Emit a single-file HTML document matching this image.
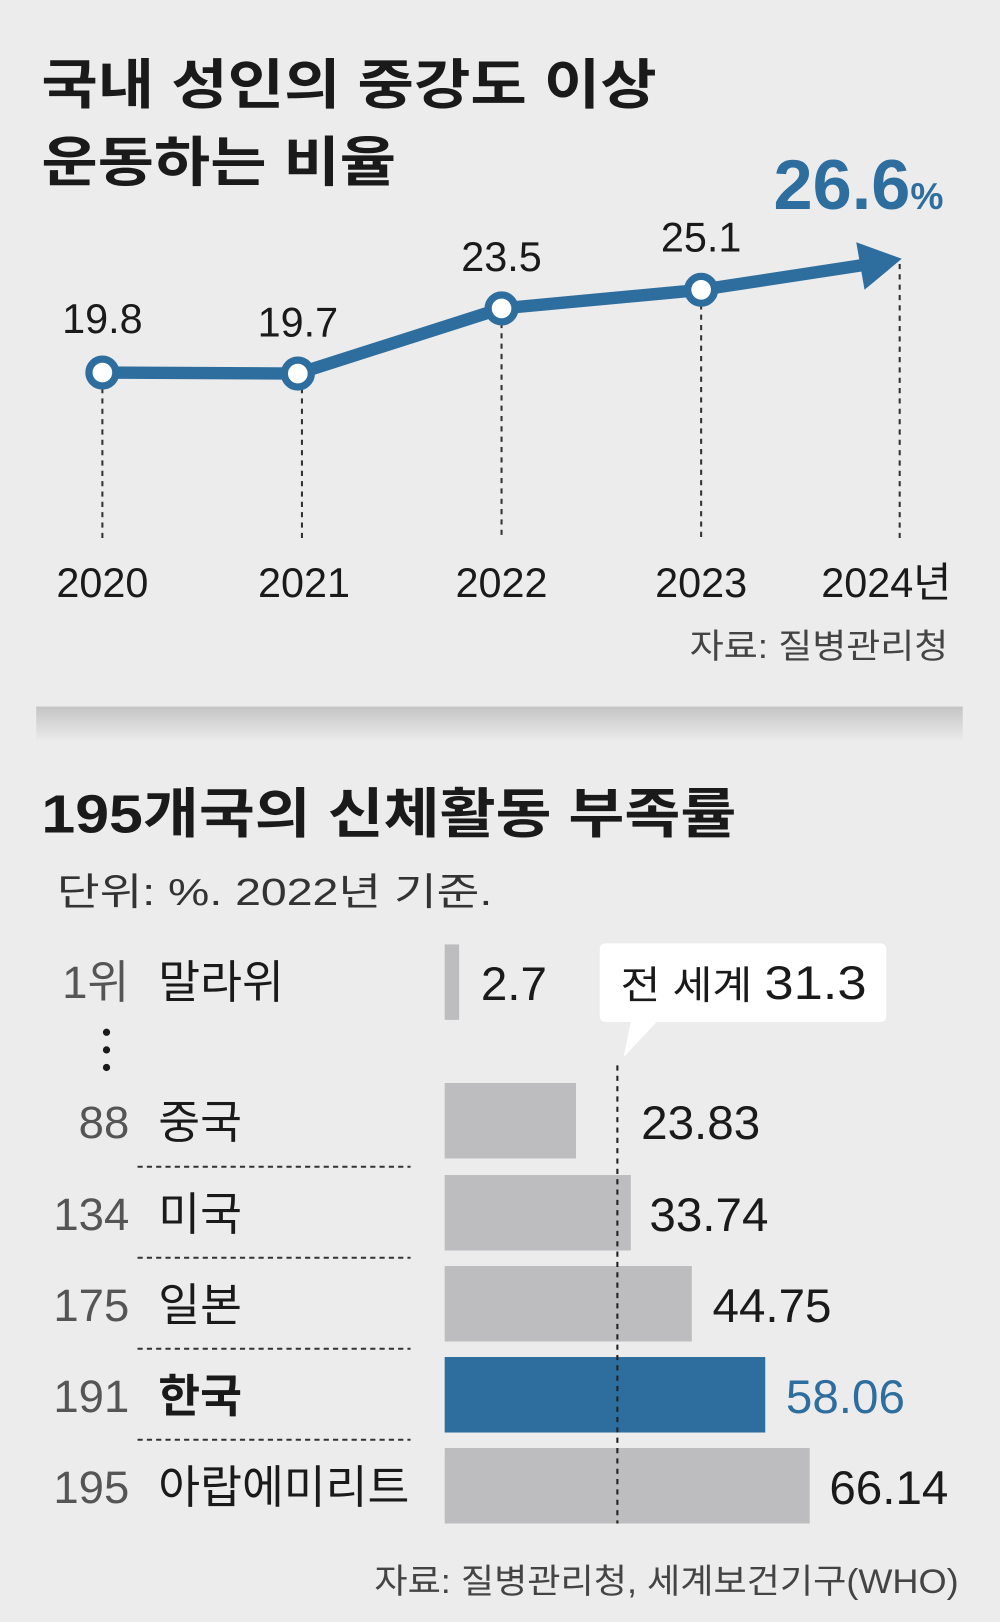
<!DOCTYPE html>
<html><head><meta charset="utf-8"><style>
html,body{margin:0;padding:0;background:#ececec;}
svg{display:block}
text{font-family:"Liberation Sans","Noto Sans CJK KR",sans-serif;}
</style></head><body>
<svg width="1000" height="1622" viewBox="0 0 967 1568" xmlns="http://www.w3.org/2000/svg">
<defs><linearGradient id="g" x1="0" y1="0" x2="0" y2="1"><stop offset="0" stop-color="#c4c4c4"/><stop offset="1" stop-color="#ececec"/></linearGradient></defs>
<rect width="967" height="1568" fill="#ececec"/>
<text x="40" y="100" font-size="52" font-weight="bold" fill="#1a1a1a" textLength="595" lengthAdjust="spacingAndGlyphs">국내 성인의 중강도 이상</text>
<text x="40" y="175" font-size="52" font-weight="bold" fill="#1a1a1a" textLength="343" lengthAdjust="spacingAndGlyphs">운동하는 비율</text>
<g stroke="#333" stroke-width="2" stroke-dasharray="5,5">
<line x1="99" y1="375" x2="99" y2="520"/><line x1="292" y1="375" x2="292" y2="520"/>
<line x1="485" y1="312" x2="485" y2="520"/><line x1="678" y1="294" x2="678" y2="520"/>
<line x1="870" y1="255" x2="870" y2="520"/></g>
<polyline points="99,360 288,361 485,298 678,280 835,256" fill="none" stroke="#2e6e9e" stroke-width="12" stroke-linejoin="round"/>
<polygon points="872,250 828,234 836,280" fill="#2e6e9e"/>
<g fill="#fff" stroke="#2e6e9e" stroke-width="7">
<circle cx="99" cy="360" r="13"/><circle cx="288" cy="361" r="13"/><circle cx="485" cy="298" r="13"/><circle cx="678" cy="280" r="13"/></g>
<g font-size="40" fill="#1a1a1a" text-anchor="middle">
<text x="99" y="322">19.8</text><text x="288" y="325">19.7</text><text x="485" y="262">23.5</text><text x="678" y="243">25.1</text>
<text x="99" y="577">2020</text><text x="294" y="577">2021</text><text x="485" y="577">2022</text><text x="678" y="577">2023</text><text x="857" y="577">2024년</text></g>
<text x="748" y="202" font-size="68" font-weight="bold" fill="#2e6e9e">26.6<tspan font-size="36">%</tspan></text>
<text x="667" y="636" font-size="33" fill="#444" textLength="250" lengthAdjust="spacingAndGlyphs">자료: 질병관리청</text>
<rect x="35" y="683" width="896" height="34" fill="url(#g)"/>
<text x="40" y="805" font-size="52" font-weight="bold" fill="#1a1a1a" textLength="672" lengthAdjust="spacingAndGlyphs">195개국의 신체활동 부족률</text>
<text x="55" y="875" font-size="37" fill="#333" textLength="421" lengthAdjust="spacingAndGlyphs">단위: %. 2022년 기준.</text>
<g fill="#1a1a1a"><circle cx="103" cy="998" r="3.5"/><circle cx="103" cy="1015" r="3.5"/><circle cx="103" cy="1032" r="3.5"/></g>
<g fill="#bdbdbf">
<rect x="430" y="913" width="14" height="73"/>
<rect x="430" y="1047" width="127" height="73"/>
<rect x="430" y="1136" width="180" height="73"/>
<rect x="430" y="1224" width="239" height="73"/>
<rect x="430" y="1400" width="353" height="73"/></g>
<rect x="430" y="1312" width="310" height="73" fill="#2e6e9e"/>
<line x1="597" y1="1030" x2="597" y2="1473" stroke="#222" stroke-width="2" stroke-dasharray="5,5"/>
<g stroke="#333" stroke-width="2" stroke-dasharray="5,4">
<line x1="133" y1="1128" x2="397" y2="1128"/><line x1="133" y1="1216" x2="397" y2="1216"/>
<line x1="133" y1="1304" x2="397" y2="1304"/><line x1="133" y1="1392" x2="397" y2="1392"/></g>
<path d="M586,912 H851 Q857,912 857,918 V982 Q857,988 851,988 H635 L603,1022 L610,988 H586 Q580,988 580,982 V918 Q580,912 586,912 Z" fill="#fff"/>
<text x="600" y="966" font-size="38" fill="#1a1a1a" textLength="238" lengthAdjust="spacingAndGlyphs">전 세계 <tspan font-size="46">31.3</tspan></text>
<g font-size="44" fill="#555" text-anchor="end">
<text x="125" y="965">1위</text><text x="125" y="1100">88</text><text x="125" y="1189">134</text>
<text x="125" y="1277">175</text><text x="125" y="1365">191</text><text x="125" y="1453">195</text></g>
<g font-size="44" fill="#1a1a1a">
<text x="153" y="965">말라위</text><text x="153" y="1100">중국</text><text x="153" y="1189">미국</text>
<text x="153" y="1277">일본</text><text x="153" y="1365" font-weight="bold">한국</text><text x="153" y="1453">아랍에미리트</text></g>
<g font-size="46" fill="#1a1a1a">
<text x="465" y="967">2.7</text><text x="620" y="1101">23.83</text><text x="628" y="1190">33.74</text>
<text x="689" y="1278">44.75</text><text x="760" y="1366" fill="#2e6e9e">58.06</text><text x="802" y="1454">66.14</text></g>
<text x="362" y="1540" font-size="33" fill="#444" textLength="565" lengthAdjust="spacingAndGlyphs">자료: 질병관리청, 세계보건기구(WHO)</text>
</svg>
</body></html>
